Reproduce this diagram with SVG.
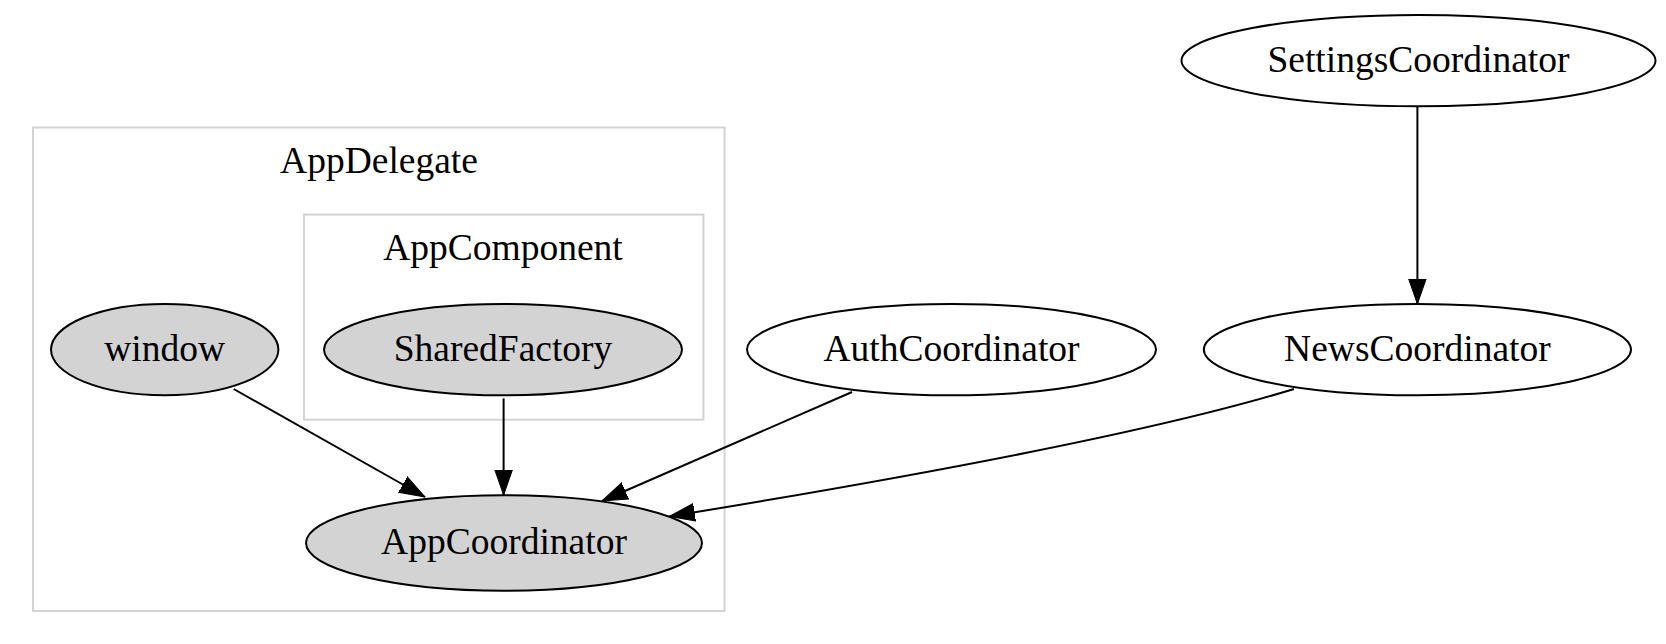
<svg xmlns="http://www.w3.org/2000/svg" width="1666" height="644" viewBox="0 0 1666 644">
<defs>
<style>
.cl{fill:none;stroke:#d3d3d3;stroke-width:2}
.nd{stroke:#000;stroke-width:2}
.g{fill:#d3d3d3}
.w{fill:#fff}
.t{font-family:"Liberation Serif","Times New Roman",serif;font-size:37.5px;fill:#000;text-anchor:middle}
.e{fill:none;stroke:#000;stroke-width:2;marker-end:url(#ah)}
</style>
<marker id="ah" markerUnits="userSpaceOnUse" markerWidth="26" markerHeight="19" refX="25.4" refY="8.9" orient="auto" viewBox="0 0 26 18">
<path d="M0,0 L25.4,8.9 L0,17.8 z" fill="#000" stroke="#000" stroke-width="1"/>
</marker>
</defs>
<rect width="1666" height="644" fill="#fff"/>
<g id="cluster_AppDelegate">
<rect class="cl" x="33" y="127.5" width="691.6" height="483.5"/>
<text class="t" x="379" y="173">AppDelegate</text>
</g>
<g id="cluster_AppComponent">
<rect class="cl" x="304" y="214.6" width="399.4" height="205.1"/>
<text class="t" x="503" y="260">AppComponent</text>
</g>
<g id="connectors">
<path class="e" d="M1417.4,106.3 L1417.4,303.9"/>
<path class="e" d="M233.75,389 L425,497"/>
<path class="e" d="M503.6,398.4 L503.6,495"/>
<path class="e" d="M852,392 L602,501"/>
<path class="e" d="M1294,389 C1180,424 980,466 669.4,516.4"/>
</g>
<g id="node_SettingsCoordinator">
<ellipse class="nd w" cx="1418.5" cy="60.6" rx="237" ry="45.7"/>
<text class="t" x="1418.5" y="71.5">SettingsCoordinator</text>
</g>
<g id="node_window">
<ellipse class="nd g" cx="164.7" cy="349.6" rx="113.7" ry="45.7"/>
<text class="t" x="164.7" y="360.5">window</text>
</g>
<g id="node_SharedFactory">
<ellipse class="nd g" cx="503" cy="349.6" rx="179" ry="45.7"/>
<text class="t" x="503" y="360.5">SharedFactory</text>
</g>
<g id="node_AuthCoordinator">
<ellipse class="nd w" cx="951.5" cy="349.6" rx="204.5" ry="45.7"/>
<text class="t" x="951.5" y="360.5">AuthCoordinator</text>
</g>
<g id="node_NewsCoordinator">
<ellipse class="nd w" cx="1417.4" cy="349.6" rx="213.6" ry="45.7"/>
<text class="t" x="1417.4" y="360.5">NewsCoordinator</text>
</g>
<g id="node_AppCoordinator">
<ellipse class="nd g" cx="504" cy="543" rx="198" ry="47.8"/>
<text class="t" x="504" y="554">AppCoordinator</text>
</g>
</svg>
